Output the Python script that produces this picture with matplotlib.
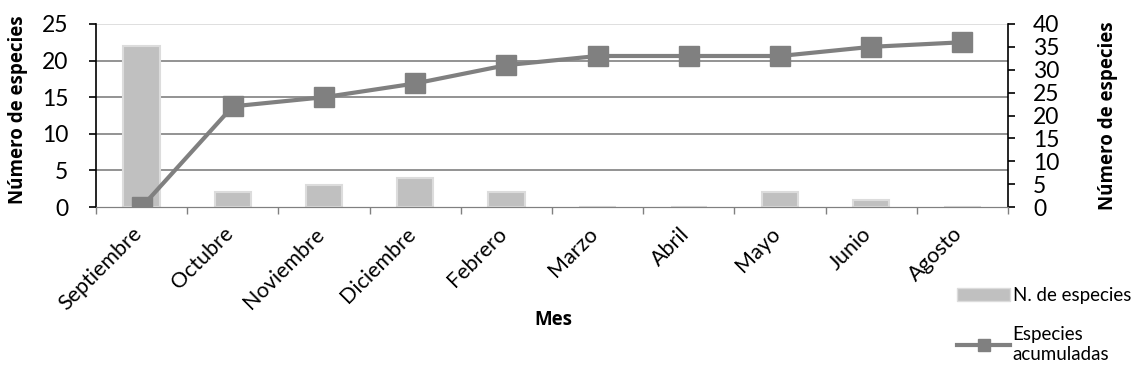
import numpy as np
import matplotlib.pyplot as plt
import matplotlib.transforms as mtransforms
from matplotlib.lines import Line2D
from matplotlib.patches import Patch

plt.rcParams['font.family'] = ['Lato', 'DejaVu Sans']

meses = ['Septiembre', 'Octubre', 'Noviembre', 'Diciembre', 'Febrero',
         'Marzo', 'Abril', 'Mayo', 'Junio', 'Agosto']
n_especies = [22, 2, 3, 4, 2, 0, 0, 2, 1, 0]
acumuladas = [0, 22, 24, 27, 31, 33, 33, 33, 35, 36]

fig = plt.figure(figsize=(11.4, 3.8), dpi=100)
ax = fig.add_axes([0.0842, 0.455, 0.8, 0.482])
ax2 = ax.twinx()

x = np.arange(len(meses))
ax.bar(x, n_especies, width=0.4, color='#c0c0c0', edgecolor='#dcdcdc', linewidth=1.5, zorder=2)
ax2.plot(x, acumuladas, color='#808080', lw=3, marker='s', markersize=14, zorder=3)

ax.set_xlim(-0.5, len(meses) - 0.5)
ax.set_ylim(0, 25)
ax2.set_ylim(0, 40)
ax.set_yticks(range(0, 26, 5))
ax2.set_yticks(range(0, 41, 5))

for v in range(5, 21, 5):
    ax.axhline(v, color='#808080', lw=1.2, zorder=1)
ax.axhline(25, color='#d9d9d9', lw=1.2, zorder=1)

ax.set_xticks(x)
ax.set_xticklabels(meses, rotation=45, ha='right', rotation_mode='anchor', fontsize=15.5)
ax.tick_params(axis='x', length=0, pad=12)
ax.set_xticks(np.arange(-0.5, len(meses)), minor=True)
ax.tick_params(axis='x', which='minor', length=5, color='#808080', width=1)
# nudge the rotated month names so their ends sit under the category centre
shift = mtransforms.ScaledTranslation(-7 / 72, 0, fig.dpi_scale_trans)
for lbl in ax.get_xticklabels():
    lbl.set_transform(lbl.get_transform() + shift)

ax.tick_params(axis='y', labelsize=16.5, length=5, width=1.2, pad=15)
ax2.tick_params(axis='y', labelsize=16.5, length=5, width=1.2, pad=13)

for a in (ax, ax2):
    a.spines['top'].set_visible(False)
    a.spines['bottom'].set_color('#808080')
    a.spines['left'].set_linewidth(1.2)
    a.spines['right'].set_linewidth(1.2)
ax2.spines['left'].set_visible(False)
ax.spines['right'].set_visible(False)
ax.set_zorder(ax2.get_zorder() - 1)
ax2.patch.set_visible(False)

bold = dict(family=['Open Sans', 'DejaVu Sans'], fontweight='bold', fontsize=13.5)
ax.set_ylabel('Número de especies', **bold)
ax.yaxis.set_label_coords(-0.074, 0.53)
ax2.set_ylabel('Número de especies', labelpad=28, **bold)
ax.set_xlabel('Mes', **bold)
ax.xaxis.set_label_coords(0.502, -0.56)

handles = [Patch(facecolor='#c0c0c0', edgecolor='#dcdcdc'),
           Line2D([], [], color='#808080', lw=3, marker='s', markersize=8)]
fig.legend(handles, ['N. de especies', 'Especies\nacumuladas'],
           loc='upper left', bbox_to_anchor=(0.825, 0.29), frameon=False,
           fontsize=13.5, handlelength=2.8, handletextpad=0.15, labelspacing=1.2)

fig.savefig('out.png', dpi=100)
